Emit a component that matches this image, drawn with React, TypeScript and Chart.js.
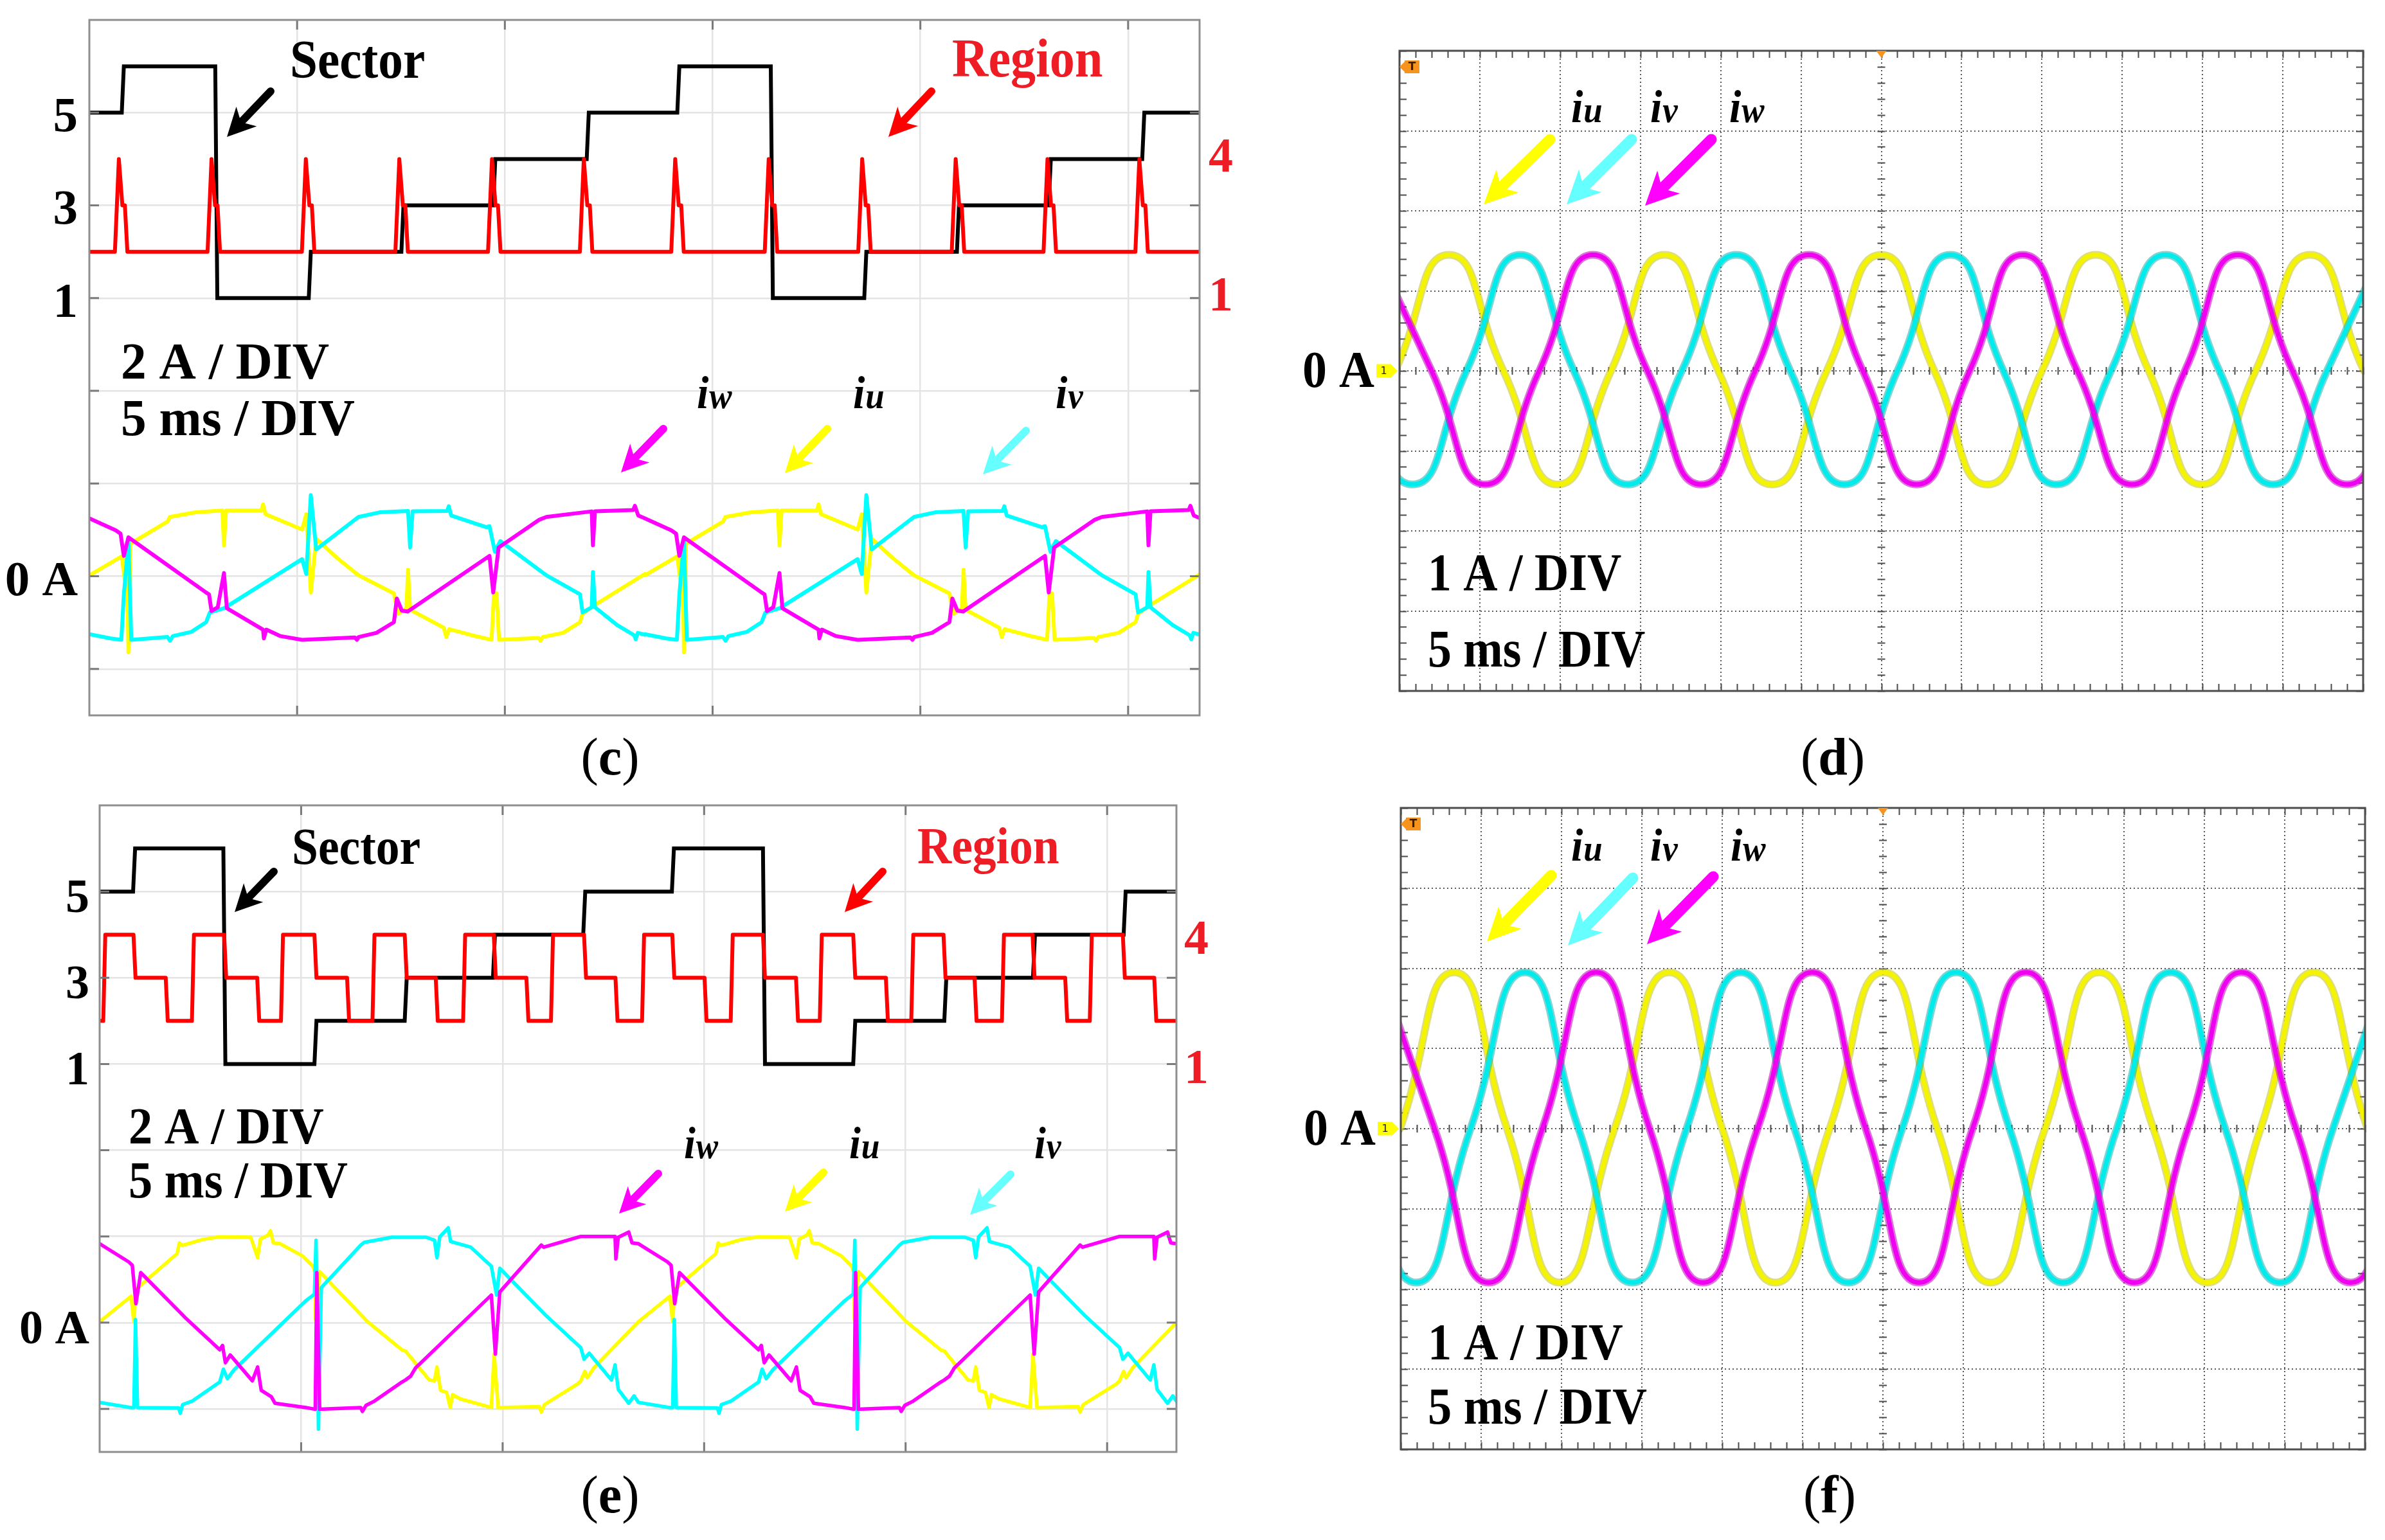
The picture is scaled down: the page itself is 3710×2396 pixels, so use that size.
import React, { useEffect, useRef } from 'react';
import { Chart, registerables } from 'chart.js';

Chart.register(...registerables);

const SERIF = '"Liberation Serif", "Times New Roman", Times, serif';

/* ================= panel (c) data ================= */
const C_T_MAX = 26.72;
const C_PERIOD = 13.37;
const C_X_GRID = [5, 10, 15, 20, 25];
const C_Y_GRID = [-1, 0, 1, 2, 3, 4, 5];
const C_SECTOR_T = [0, 0.78, 3.03, 5.28, 7.51, 9.72, 11.97, 14.15, 16.4, 18.65, 20.88, 23.09, 25.34];
const C_SECTOR_V = [5, 6, 1, 2, 3, 4, 5, 6, 1, 2, 3, 4, 5];
const C_REGION_PEAK_T = [0.71, 2.94, 5.21, 7.46, 9.69, 11.9, 14.1, 16.35, 18.6, 20.85, 23.06, 25.27];
const C_REGION_BASE = 2;
const C_SPIKE_DT = [-0.095, 0, 0.085, 0.145, 0.205];
const C_SPIKE_V = [2, 4, 3, 3, 2];
// one period of each phase current (ms, A)
const C_IU_T = [0, 0.78, 0.85, 0.9, 0.94, 0.99, 1.19, 1.88, 1.94, 2.56, 3.2, 3.24, 3.29, 4.14, 4.18, 4.24, 5.12, 5.22, 5.33, 5.46, 5.97, 6.48, 7.33, 7.43, 7.63, 7.67, 7.72, 8.53, 8.59, 8.66, 9.2, 9.68, 9.74, 9.8, 9.86, 10.81, 10.86, 10.91, 11.4, 11.81, 11.87, 12.11, 13.37];
const C_IU_A = [0.02, 0.43, -0.07, 0.67, -1.64, 0.7, 0.81, 1.18, 1.28, 1.38, 1.42, 0.67, 1.42, 1.42, 1.55, 1.34, 1.01, 1.34, -0.35, 0.81, 0.39, 0.02, -0.37, -0.81, -0.69, 0.14, -0.72, -1.11, -1.31, -1.14, -1.27, -1.37, -0.37, -0.37, -1.37, -1.33, -1.39, -1.31, -1.22, -0.99, -0.81, -0.65, 0.05];
const C_IV_T = [0, 0.51, 0.77, 0.83, 0.94, 1.01, 1.88, 1.94, 2.01, 2.45, 2.81, 2.9, 3.24, 5.12, 5.22, 5.33, 5.46, 6.39, 6.48, 6.99, 7.67, 7.72, 7.78, 8.61, 8.65, 8.71, 9.55, 9.63, 9.76, 9.89, 11.0, 11.81, 11.87, 12.09, 12.12, 12.17, 12.7, 13.11, 13.15, 13.2, 13.37];
const C_IV_A = [-1.25, -1.34, -1.37, -0.39, 0.76, -1.37, -1.31, -1.39, -1.29, -1.2, -0.99, -0.78, -0.69, 0.37, 0.05, 1.75, 0.58, 1.22, 1.28, 1.38, 1.41, 0.62, 1.4, 1.41, 1.51, 1.31, 1.06, 1.08, 0.53, 0.76, 0.02, -0.39, -0.78, -0.67, 0.09, -0.67, -1.05, -1.27, -1.36, -1.22, -1.26];
const C_IW_T = [0, 0.64, 0.75, 0.83, 0.94, 2.81, 2.88, 2.94, 3.09, 3.24, 3.31, 4.18, 4.2, 4.26, 4.6, 5.12, 6.39, 6.44, 6.48, 6.91, 7.33, 7.4, 7.52, 7.66, 9.63, 9.72, 9.85, 10.83, 11.0, 12.09, 12.12, 12.17, 13.09, 13.13, 13.21, 13.37];
const C_IW_A = [1.25, 0.99, 0.92, 0.44, 0.84, -0.35, -0.39, -0.75, -0.67, 0.07, -0.69, -1.15, -1.34, -1.15, -1.29, -1.37, -1.32, -1.37, -1.31, -1.22, -0.99, -0.48, -0.74, -0.76, 0.44, -0.35, 0.62, 1.22, 1.28, 1.4, 0.67, 1.4, 1.43, 1.52, 1.31, 1.25];

/* ================= panel (e) data ================= */
const E_T_MAX = 26.72;
const E_PERIOD = 13.37;
const E_SECTOR_T = [0, 0.83, 3.07, 5.33, 7.57, 9.76, 12.0, 14.2, 16.46, 18.7, 20.96, 23.16, 25.41];
const E_SECTOR_V = [5, 6, 1, 2, 3, 4, 5, 6, 1, 2, 3, 4, 5];
const E_REGION_T = [0, 0.09, 0.84, 1.64, 2.29, 3.09, 3.91, 4.5, 5.33, 6.14, 6.77, 7.57, 8.34, 9.02, 9.78, 10.59, 11.2, 12.02, 12.8, 13.46, 14.21, 15.01, 15.66, 16.46, 17.28, 17.87, 18.7, 19.51, 20.14, 20.94, 21.71, 22.39, 23.15, 23.96, 24.57, 25.39, 26.17];
const E_REGION_V = [2, 4, 3, 2, 4, 3, 2, 4, 3, 2, 4, 3, 2, 4, 3, 2, 4, 3, 2, 4, 3, 2, 4, 3, 2, 4, 3, 2, 4, 3, 2, 4, 3, 2, 4, 3, 2];
const E_IU_T = [0, 0.78, 0.85, 0.9, 1.19, 1.92, 1.98, 2.05, 2.56, 2.98, 3.75, 3.92, 3.99, 4.18, 4.24, 4.31, 4.48, 5.03, 5.29, 5.35, 5.36, 5.46, 6.65, 7.5, 7.59, 8.18, 8.31, 8.37, 8.46, 8.61, 8.7, 8.76, 8.95, 9.72, 9.79, 9.89, 10.91, 10.96, 11.04, 11.85, 11.94, 12.04, 12.1, 12.28, 13.37];
const E_IU_A = [0.02, 0.61, 0.02, 0.76, 1.01, 1.6, 1.85, 1.79, 1.93, 1.99, 1.98, 1.51, 1.94, 2.03, 2.13, 1.85, 1.83, 1.55, 1.31, 1.16, 0.07, 1.18, 0.02, -0.63, -0.66, -1.33, -1.35, -1.03, -1.57, -1.62, -1.97, -1.67, -1.77, -1.97, -0.73, -1.97, -1.95, -2.07, -1.9, -1.43, -1.35, -1.13, -1.28, -1.03, 0.02];
const E_IV_T = [0, 0.77, 0.85, 0.89, 0.94, 1.96, 2.0, 2.06, 2.3, 2.98, 3.07, 3.17, 3.33, 5.12, 5.33, 5.37, 5.43, 5.5, 6.48, 6.56, 7.25, 8.1, 8.31, 8.37, 8.44, 8.65, 8.71, 9.21, 9.72, 9.85, 9.93, 11.08, 11.94, 12.02, 12.15, 12.7, 12.79, 12.87, 13.13, 13.26, 13.37];
const E_IV_A = [-1.85, -1.97, -1.97, 0.07, -1.97, -1.98, -2.1, -1.9, -1.82, -1.38, -1.08, -1.3, -1.1, 0.51, 0.66, 1.91, -2.47, 0.81, 1.8, 1.86, 1.98, 1.98, 1.91, 1.51, 1.99, 2.2, 1.88, 1.75, 1.31, 0.64, 1.26, 0.16, -0.58, -0.85, -0.71, -1.33, -0.98, -1.55, -1.87, -1.7, -1.85];
const E_IW_T = [0, 0.72, 0.81, 0.9, 1.02, 2.13, 2.98, 3.05, 3.12, 3.24, 3.79, 3.92, 4.01, 4.26, 4.35, 5.12, 5.35, 5.39, 5.46, 6.48, 6.52, 6.61, 6.82, 7.5, 7.59, 7.72, 7.84, 8.53, 9.72, 9.82, 9.93, 10.96, 11.02, 11.94, 12.79, 12.81, 12.87, 13.13, 13.21, 13.37];
const E_IW_A = [1.83, 1.41, 1.33, 0.44, 1.16, 0.11, -0.63, -0.53, -0.93, -0.75, -1.35, -1.03, -1.57, -1.72, -1.87, -1.97, -2.01, 1.16, -2.01, -1.97, -2.06, -1.92, -1.82, -1.38, -1.33, -1.24, -1.05, -0.43, 0.64, -0.73, 0.71, 1.8, 1.75, 2.0, 2.0, 1.48, 1.98, 2.1, 1.85, 1.83];

/* ================= panels (d) and (f) data: peaks, zero crossings, troughs ================= */
const SCOPE_T_MAX = 60;
const SCOPE_X_GRID = [5, 10, 15, 20, 25, 30, 35, 40, 45, 50, 55];
const SCOPE_Y_GRID = [-3, -2, -1, 0, 1, 2, 3];
const D_IU_T = [-3.62, -0.27, 3.08, 6.47, 9.85, 13.17, 16.5, 19.85, 23.2, 26.6, 30.0, 33.3, 36.6, 40.0, 43.35, 46.65, 49.95, 53.3, 56.7, 60.05, 63.4];
const D_IU_A = [-1.42, 0, 1.45, 0, -1.42, 0, 1.45, 0, -1.42, 0, 1.45, 0, -1.42, 0, 1.45, 0, -1.42, 0, 1.45, 0, -1.42];
const D_IV_T = [-5.88, -2.53, 0.82, 4.17, 7.52, 10.86, 14.2, 17.58, 20.97, 24.33, 27.7, 31.0, 34.3, 37.6, 40.9, 44.3, 47.7, 51.05, 54.4, 57.75, 61.1];
const D_IV_A = [1.45, 0, -1.42, 0, 1.45, 0, -1.42, 0, 1.45, 0, -1.42, 0, 1.45, 0, -1.42, 0, 1.45, 0, -1.42, 0, 1.45];
const D_IW_T = [-1.35, 2.0, 5.34, 8.7, 12.05, 15.43, 18.8, 22.15, 25.5, 28.85, 32.2, 35.5, 38.8, 42.2, 45.6, 48.9, 52.2, 55.6, 59.0, 62.35];
const D_IW_A = [1.45, 0, -1.42, 0, 1.45, 0, -1.42, 0, 1.45, 0, -1.42, 0, 1.45, 0, -1.42, 0, 1.45, 0, -1.42, 0];
const F_IU_T = [-3.4, -0.04, 3.32, 6.61, 9.9, 13.3, 16.7, 20.0, 23.3, 26.68, 30.05, 33.38, 36.7, 40.08, 43.45, 46.83, 50.2, 53.5, 56.8, 60.15, 63.5];
const F_IU_A = [-1.92, 0, 1.95, 0, -1.92, 0, 1.95, 0, -1.92, 0, 1.95, 0, -1.92, 0, 1.95, 0, -1.92, 0, 1.95, 0, -1.92];
const F_IV_T = [-5.75, -2.4, 0.96, 4.34, 7.72, 11.06, 14.4, 17.78, 21.15, 24.5, 27.85, 31.2, 34.55, 37.88, 41.2, 44.55, 47.9, 51.3, 54.7, 58.0, 61.3];
const F_IV_A = [1.95, 0, -1.92, 0, 1.95, 0, -1.92, 0, 1.95, 0, -1.92, 0, 1.95, 0, -1.92, 0, 1.95, 0, -1.92, 0, 1.95];
const F_IW_T = [-1.25, 2.1, 5.46, 8.81, 12.16, 15.48, 18.8, 22.2, 25.6, 28.93, 32.25, 35.58, 38.9, 42.28, 45.65, 48.98, 52.3, 55.7, 59.1, 62.45];
const F_IW_A = [1.95, 0, -1.92, 0, 1.95, 0, -1.92, 0, 1.95, 0, -1.92, 0, 1.95, 0, -1.92, 0, 1.95, 0, -1.92, 0];

/* ================= tick labels ================= */
const SECTOR_TICKS = [5, 3, 1];
const REGION_TICKS = [4, 1];
const ZERO_LABEL = '0 A';

/* ================= helpers ================= */
type P = { x: number; y: number };
const zip = (t: number[], v: number[]): P[] => t.map((x, i) => ({ x, y: v[i] }));
const repeatPeriod = (t: number[], v: number[], period: number, n: number): P[] => {
  const out: P[] = [];
  for (let k = 0; k < n; k++) for (let i = 0; i < t.length; i++) out.push({ x: t[i] + k * period, y: v[i] });
  return out;
};
const stepLine = (t: number[], v: number[], end: number, slant: number): P[] => {
  const out: P[] = [{ x: t[0], y: v[0] }];
  for (let i = 1; i < t.length; i++) {
    out.push({ x: t[i], y: v[i - 1] });
    out.push({ x: t[i] + slant, y: v[i] });
  }
  out.push({ x: end, y: v[v.length - 1] });
  return out;
};
const spikeLine = (peaks: number[], dt: number[], lv: number[], base: number, end: number): P[] => {
  const out: P[] = [{ x: 0, y: base }];
  peaks.forEach((p) => dt.forEach((d, i) => out.push({ x: p + d, y: lv[i] })));
  out.push({ x: end, y: base });
  return out;
};

const font = (size: number, bold = true, italic = false) => `${italic ? 'italic ' : ''}${bold ? 'bold ' : ''}${size}px ${SERIF}`;

type TextItem = { s: string; x: number; y: number; size: number; color?: string; sx?: number; align?: 'left' | 'right' | 'center' };
type SubItem = { sub: string; x: number; y: number; size: number };
type ArrowItem = { x1: number; y1: number; x2: number; y2: number; color: string; shaft: number; head: number; headW: number };

function drawText(ctx: CanvasRenderingContext2D, t: TextItem, ox: number, oy: number) {
  ctx.save();
  ctx.font = font(t.size);
  ctx.fillStyle = t.color || '#000';
  ctx.textBaseline = 'alphabetic';
  ctx.textAlign = 'left';
  const sx = t.sx || 1;
  const w = ctx.measureText(t.s).width * sx;
  let x = t.x - ox;
  if (t.align === 'right') x -= w;
  else if (t.align === 'center') x -= w / 2;
  ctx.translate(x, t.y - oy);
  ctx.scale(sx, 1);
  ctx.fillText(t.s, 0, 0);
  ctx.restore();
}

function drawSub(ctx: CanvasRenderingContext2D, t: SubItem, ox: number, oy: number) {
  ctx.save();
  ctx.fillStyle = '#000';
  ctx.textBaseline = 'alphabetic';
  ctx.translate(t.x - ox, t.y - oy);
  ctx.scale(0.92, 1);
  ctx.font = font(t.size, true, true);
  ctx.fillText('i', 0, 0);
  const w = ctx.measureText('i').width;
  ctx.font = font(t.size * 0.8, true, true);
  ctx.fillText(t.sub, w + 1, 0);
  ctx.restore();
}

function drawArrow(ctx: CanvasRenderingContext2D, a: ArrowItem, ox: number, oy: number) {
  const x1 = a.x1 - ox, y1 = a.y1 - oy, x2 = a.x2 - ox, y2 = a.y2 - oy;
  const dx = x2 - x1, dy = y2 - y1;
  const L = Math.hypot(dx, dy);
  const ux = dx / L, uy = dy / L, px = -uy, py = ux;
  const bx = x2 - ux * a.head, by = y2 - uy * a.head;
  ctx.save();
  ctx.strokeStyle = a.color;
  ctx.fillStyle = a.color;
  ctx.lineWidth = a.shaft;
  ctx.lineCap = 'round';
  ctx.beginPath();
  ctx.moveTo(x1, y1);
  ctx.lineTo(bx + ux * a.head * 0.35, by + uy * a.head * 0.35);
  ctx.stroke();
  ctx.beginPath();
  ctx.moveTo(x2, y2);
  ctx.lineTo(bx + (px * a.headW) / 2, by + (py * a.headW) / 2);
  ctx.lineTo(bx + ux * a.head * 0.28, by + uy * a.head * 0.28);
  ctx.lineTo(bx - (px * a.headW) / 2, by - (py * a.headW) / 2);
  ctx.closePath();
  ctx.fill();
  ctx.restore();
}

function drawCaption(ctx: CanvasRenderingContext2D, letter: string, cx: number, base: number, ox: number, oy: number) {
  const size = 82;
  const parts: [string, boolean][] = [['(', false], [letter, true], [')', false]];
  ctx.save();
  ctx.fillStyle = '#000';
  ctx.textBaseline = 'alphabetic';
  ctx.textAlign = 'left';
  const widths = parts.map(([s, b]) => {
    ctx.font = font(size, b);
    return ctx.measureText(s).width;
  });
  let x = cx - ox - widths.reduce((a, b) => a + b, 0) / 2;
  parts.forEach(([s, b], i) => {
    ctx.font = font(size, b);
    ctx.fillText(s, x, base - oy);
    x += widths[i];
  });
  ctx.restore();
}

const gridAxis = (min: number, max: number, grid: number[], color: string, width: number, dash: number[]) => ({
  type: 'linear',
  min,
  max,
  afterBuildTicks: (axis: any) => {
    axis.ticks = grid.map((value) => ({ value }));
  },
  ticks: { display: false },
  grid: { color, lineWidth: width, drawTicks: false },
  border: { display: false, dash },
});

const baseOptions = (padding: any) => ({
  responsive: false,
  maintainAspectRatio: false,
  animation: false,
  devicePixelRatio: 1,
  events: [],
  layout: { padding },
  plugins: { legend: { display: false }, tooltip: { enabled: false }, title: { display: false } },
  elements: {
    point: { radius: 0, hoverRadius: 0, hitRadius: 0 },
    line: { tension: 0, borderCapStyle: 'round', borderJoinStyle: 'round', capBezierPoints: false },
  },
});

/* ================= PWM (Matlab-style) panels ================= */
type LabelItem = { s: string; scale: string; v: number };
type PwmCfg = {
  ox: number; oy: number; padding: any; tMax: number;
  sector: P[]; region: P[]; iu: P[]; iv: P[]; iw: P[]; lw: number;
  left: LabelItem[]; leftSize: number; leftGap: number; leftDy: number;
  right: LabelItem[]; rightSize: number; rightGap: number; rightDy: number;
  texts: TextItem[]; subs: SubItem[]; arrows: ArrowItem[]; caption: string; capX: number; capY: number;
};

function pwmChart(c: PwmCfg) {
  const plugin = {
    id: 'pwmDecor',
    afterDatasetsDraw(chart: any) {
      const { ctx, chartArea: a } = chart;
      const xs = chart.scales.x, ys = chart.scales.y;
      ctx.save();
      ctx.strokeStyle = '#7a7a7a';
      ctx.lineWidth = 3;
      ctx.beginPath();
      C_Y_GRID.forEach((v) => {
        const py = ys.getPixelForValue(v);
        ctx.moveTo(a.left, py); ctx.lineTo(a.left + 15, py);
        ctx.moveTo(a.right - 15, py); ctx.lineTo(a.right, py);
      });
      C_X_GRID.forEach((v) => {
        const px = xs.getPixelForValue(v);
        ctx.moveTo(px, a.bottom); ctx.lineTo(px, a.bottom - 15);
        ctx.moveTo(px, a.top); ctx.lineTo(px, a.top + 15);
      });
      ctx.stroke();
      ctx.strokeStyle = '#8e8e8e';
      ctx.lineWidth = 3;
      ctx.strokeRect(a.left, a.top, a.right - a.left, a.bottom - a.top);
      ctx.restore();
    },
    afterDraw(chart: any) {
      const { ctx, chartArea: a } = chart;
      c.left.forEach((l) => {
        const py = chart.scales[l.scale].getPixelForValue(l.v);
        drawText(ctx, { s: l.s, x: a.left - c.leftGap + c.ox, y: py + 0.35 * c.leftSize + c.leftDy + c.oy, size: c.leftSize, align: 'right' }, c.ox, c.oy);
      });
      c.right.forEach((l) => {
        const py = chart.scales[l.scale].getPixelForValue(l.v);
        drawText(ctx, { s: l.s, x: a.right + c.rightGap + c.ox, y: py + 0.35 * c.rightSize + c.rightDy + c.oy, size: c.rightSize, color: '#ee1c24' }, c.ox, c.oy);
      });
      c.texts.forEach((t) => drawText(ctx, t, c.ox, c.oy));
      c.subs.forEach((t) => drawSub(ctx, t, c.ox, c.oy));
      c.arrows.forEach((t) => drawArrow(ctx, t, c.ox, c.oy));
      drawCaption(ctx, c.caption, c.capX, c.capY, c.ox, c.oy);
    },
  };
  const line = (data: P[], color: string, width: number, axis: string, order: number, join = 'round') => ({
    data, borderColor: color, borderWidth: width, yAxisID: axis, order, borderJoinStyle: join, pointRadius: 0, fill: false,
  });
  return {
    type: 'line',
    data: {
      datasets: [
        line(c.region, '#ff0000', 6, 'yS', 1),
        line(c.sector, '#000000', 6, 'yS', 2, 'miter'),
        line(c.iw, '#ff00ff', c.lw, 'yA', 3),
        line(c.iv, '#00ffff', c.lw, 'yA', 4),
        line(c.iu, '#ffff00', c.lw, 'yA', 5),
      ],
    },
    options: {
      ...baseOptions(c.padding),
      scales: {
        x: gridAxis(0, c.tMax, C_X_GRID, '#e4e4e4', 2.5, []),
        y: gridAxis(-1.5, 6, C_Y_GRID, '#e4e4e4', 2.5, []),
        yS: { type: 'linear', display: false, min: -8, max: 7 },
        yA: { type: 'linear', display: false, min: -3, max: 12 },
      },
    },
    plugins: [plugin],
  };
}

/* ================= oscilloscope panels ================= */
type ScopeCfg = {
  ox: number; oy: number; padding: any; iu: P[]; iv: P[]; iw: P[];
  texts: TextItem[]; subs: SubItem[]; arrows: ArrowItem[]; caption: string; capX: number; capY: number;
};

function scopeChart(c: ScopeCfg) {
  const plugin = {
    id: 'scopeDecor',
    beforeDatasetsDraw(chart: any) {
      const { ctx, chartArea: a } = chart;
      const xs = chart.scales.x, ys = chart.scales.y;
      const x0 = xs.getPixelForValue(SCOPE_T_MAX / 2), y0 = ys.getPixelForValue(0);
      ctx.save();
      ctx.strokeStyle = '#4a4a4a';
      ctx.lineWidth = 2;
      ctx.beginPath();
      for (let k = 0; k <= SCOPE_T_MAX; k++) {
        const px = Math.round(xs.getPixelForValue(k)) + 0.5;
        ctx.moveTo(px, a.top); ctx.lineTo(px, a.top + 11);
        ctx.moveTo(px, a.bottom); ctx.lineTo(px, a.bottom - 11);
        ctx.moveTo(px, y0 - 6); ctx.lineTo(px, y0 + 6);
      }
      for (let k = -20; k <= 20; k++) {
        const py = Math.round(ys.getPixelForValue(k / 5)) + 0.5;
        ctx.moveTo(a.left, py); ctx.lineTo(a.left + 11, py);
        ctx.moveTo(a.right, py); ctx.lineTo(a.right - 11, py);
        ctx.moveTo(x0 - 6, py); ctx.lineTo(x0 + 6, py);
      }
      ctx.stroke();
      ctx.restore();
    },
    afterDatasetsDraw(chart: any) {
      const { ctx, chartArea: a } = chart;
      ctx.save();
      ctx.strokeStyle = '#4d4d4d';
      ctx.lineWidth = 3;
      ctx.strokeRect(a.left, a.top, a.right - a.left, a.bottom - a.top);
      ctx.restore();
    },
    afterDraw(chart: any) {
      const { ctx, chartArea: a } = chart;
      const xs = chart.scales.x, ys = chart.scales.y;
      const yz = ys.getPixelForValue(0);
      const xc = xs.getPixelForValue(SCOPE_T_MAX / 2);
      ctx.save();
      const yc = a.top + 25;
      ctx.fillStyle = '#f7941d';
      ctx.beginPath();
      ctx.moveTo(a.left, yc); ctx.lineTo(a.left + 9, yc - 9); ctx.lineTo(a.left + 9, yc + 9); ctx.closePath(); ctx.fill();
      ctx.fillRect(a.left + 8, yc - 10, 23, 20);
      ctx.fillStyle = '#3b1d00';
      ctx.font = 'bold 17px "DejaVu Sans", sans-serif';
      ctx.textAlign = 'center';
      ctx.textBaseline = 'middle';
      ctx.fillText('T', a.left + 19.5, yc + 1);
      ctx.fillStyle = '#f7941d';
      ctx.beginPath();
      ctx.moveTo(xc - 8, a.top); ctx.lineTo(xc + 8, a.top); ctx.lineTo(xc, a.top + 11); ctx.closePath(); ctx.fill();
      ctx.fillStyle = '#ffff00';
      ctx.fillRect(a.left - 36, yz - 10.5, 23, 21);
      ctx.beginPath();
      ctx.moveTo(a.left - 13.5, yz - 10.5); ctx.lineTo(a.left - 3, yz); ctx.lineTo(a.left - 13.5, yz + 10.5); ctx.closePath(); ctx.fill();
      ctx.fillStyle = '#222';
      ctx.font = '16px "DejaVu Sans", sans-serif';
      ctx.fillText('1', a.left - 24.5, yz + 1);
      ctx.restore();
      drawText(ctx, { s: ZERO_LABEL, x: a.left - 39 + c.ox, y: yz + 25 + c.oy, size: 80, align: 'right', sx: 0.95 }, c.ox, c.oy);
      c.texts.forEach((t) => drawText(ctx, t, c.ox, c.oy));
      c.subs.forEach((t) => drawSub(ctx, t, c.ox, c.oy));
      c.arrows.forEach((t) => drawArrow(ctx, t, c.ox, c.oy));
      drawCaption(ctx, c.caption, c.capX, c.capY, c.ox, c.oy);
    },
  };
  // each trace: a darker, semi-transparent wide band (measurement noise) under a bright core line
  const trace = (data: P[], core: string, band: string, order: number) => [
    { data, borderColor: core, borderWidth: 7, tension: 0.55, order, pointRadius: 0, fill: false },
    { data, borderColor: band, borderWidth: 12, tension: 0.55, order: order + 0.5, pointRadius: 0, fill: false },
  ];
  return {
    type: 'line',
    data: {
      datasets: [
        ...trace(c.iw, '#f000f0', 'rgba(190,0,190,0.55)', 1),
        ...trace(c.iv, '#00ecec', 'rgba(0,170,170,0.5)', 2),
        ...trace(c.iu, '#f4f400', 'rgba(190,190,0,0.5)', 3),
      ],
    },
    options: {
      ...baseOptions(c.padding),
      scales: {
        x: gridAxis(0, SCOPE_T_MAX, SCOPE_X_GRID, '#5a5a5a', 2, [2, 4]),
        y: gridAxis(-4, 4, SCOPE_Y_GRID, '#5a5a5a', 2, [2, 4]),
      },
    },
    plugins: [plugin],
  };
}

/* ================= panel builders ================= */
const SLANT = 0.05;

const makeC = () =>
  pwmChart({
    ox: 0, oy: 0, padding: { left: 139, top: 31, right: 124, bottom: 127 }, tMax: C_T_MAX,
    sector: stepLine(C_SECTOR_T, C_SECTOR_V, C_T_MAX, SLANT),
    region: spikeLine(C_REGION_PEAK_T, C_SPIKE_DT, C_SPIKE_V, C_REGION_BASE, C_T_MAX),
    iu: repeatPeriod(C_IU_T, C_IU_A, C_PERIOD, 2),
    iv: repeatPeriod(C_IV_T, C_IV_A, C_PERIOD, 2),
    iw: repeatPeriod(C_IW_T, C_IW_A, C_PERIOD, 2),
    lw: 6,
    left: [...SECTOR_TICKS.map((v) => ({ s: String(v), scale: 'yS', v })), { s: ZERO_LABEL, scale: 'yA', v: 0 }],
    leftSize: 77, leftGap: 18, leftDy: 2,
    right: REGION_TICKS.map((v) => ({ s: String(v), scale: 'yS', v })),
    rightSize: 76, rightGap: 14, rightDy: -7,
    texts: [
      { s: 'Sector', x: 451, y: 121, size: 84, sx: 0.92 },
      { s: 'Region', x: 1481, y: 119, size: 84, color: '#ee1c24', sx: 0.93 },
      { s: '2 A / DIV', x: 188, y: 589, size: 81, sx: 0.98 },
      { s: '5 ms / DIV', x: 188, y: 677, size: 81, sx: 0.98 },
    ],
    subs: [
      { sub: 'w', x: 1084, y: 635, size: 72 },
      { sub: 'u', x: 1327, y: 635, size: 72 },
      { sub: 'v', x: 1642, y: 635, size: 72 },
    ],
    arrows: [
      { x1: 421, y1: 142, x2: 353, y2: 213, color: '#000000', shaft: 12, head: 44, headW: 44 },
      { x1: 1449, y1: 142, x2: 1382, y2: 213, color: '#ff0000', shaft: 12, head: 44, headW: 44 },
      { x1: 1032, y1: 667, x2: 966, y2: 735, color: '#ff00ff', shaft: 12, head: 42, headW: 42 },
      { x1: 1287, y1: 667, x2: 1221, y2: 736, color: '#ffff00', shaft: 12, head: 42, headW: 42 },
      { x1: 1596, y1: 670, x2: 1529, y2: 738, color: '#66ffff', shaft: 12, head: 42, headW: 42 },
    ],
    caption: 'c', capX: 949, capY: 1205,
  });

const makeE = () =>
  pwmChart({
    ox: 0, oy: 1240, padding: { left: 155, top: 13, right: 160, bottom: 137 }, tMax: E_T_MAX,
    sector: stepLine(E_SECTOR_T, E_SECTOR_V, E_T_MAX, SLANT),
    region: stepLine(E_REGION_T, E_REGION_V, E_T_MAX, SLANT),
    iu: repeatPeriod(E_IU_T, E_IU_A, E_PERIOD, 2),
    iv: repeatPeriod(E_IV_T, E_IV_A, E_PERIOD, 2),
    iw: repeatPeriod(E_IW_T, E_IW_A, E_PERIOD, 2),
    lw: 5.5,
    left: [...SECTOR_TICKS.map((v) => ({ s: String(v), scale: 'yS', v })), { s: ZERO_LABEL, scale: 'yA', v: 0 }],
    leftSize: 74, leftGap: 16, leftDy: 6,
    right: REGION_TICKS.map((v) => ({ s: String(v), scale: 'yS', v })),
    rightSize: 76, rightGap: 12, rightDy: 3,
    texts: [
      { s: 'Sector', x: 454, y: 1344, size: 80, sx: 0.92 },
      { s: 'Region', x: 1427, y: 1343, size: 80, color: '#ee1c24', sx: 0.92 },
      { s: '2 A / DIV', x: 200, y: 1779, size: 80, sx: 0.93 },
      { s: '5 ms / DIV', x: 200, y: 1863, size: 80, sx: 0.93 },
    ],
    subs: [
      { sub: 'w', x: 1064, y: 1802, size: 70 },
      { sub: 'u', x: 1321, y: 1802, size: 70 },
      { sub: 'v', x: 1609, y: 1802, size: 70 },
    ],
    arrows: [
      { x1: 426, y1: 1356, x2: 365, y2: 1419, color: '#000000', shaft: 12, head: 42, headW: 42 },
      { x1: 1373, y1: 1356, x2: 1314, y2: 1419, color: '#ff0000', shaft: 12, head: 42, headW: 42 },
      { x1: 1024, y1: 1826, x2: 963, y2: 1888, color: '#ff00ff', shaft: 12, head: 40, headW: 40 },
      { x1: 1281, y1: 1824, x2: 1221, y2: 1885, color: '#ffff00', shaft: 12, head: 40, headW: 40 },
      { x1: 1572, y1: 1827, x2: 1509, y2: 1890, color: '#66ffff', shaft: 12, head: 40, headW: 40 },
    ],
    caption: 'e', capX: 949, capY: 2353,
  });

const makeD = () =>
  scopeChart({
    ox: 1990, oy: 0, padding: { left: 187, top: 79, right: 34, bottom: 165 },
    iu: zip(D_IU_T, D_IU_A), iv: zip(D_IV_T, D_IV_A), iw: zip(D_IW_T, D_IW_A),
    texts: [
      { s: '1 A / DIV', x: 2221, y: 918, size: 82, sx: 0.9 },
      { s: '5 ms / DIV', x: 2221, y: 1037, size: 82, sx: 0.9 },
    ],
    subs: [
      { sub: 'u', x: 2444, y: 190, size: 72 },
      { sub: 'v', x: 2567, y: 190, size: 72 },
      { sub: 'w', x: 2690, y: 190, size: 72 },
    ],
    arrows: [
      { x1: 2411, y1: 217, x2: 2308, y2: 318, color: '#ffff00', shaft: 17, head: 52, headW: 50 },
      { x1: 2538, y1: 217, x2: 2437, y2: 318, color: '#66ffff', shaft: 17, head: 52, headW: 50 },
      { x1: 2662, y1: 217, x2: 2559, y2: 320, color: '#ff00ff', shaft: 17, head: 52, headW: 50 },
    ],
    caption: 'd', capX: 2851, capY: 1205,
  });

const makeF = () =>
  scopeChart({
    ox: 1990, oy: 1240, padding: { left: 189, top: 17, right: 31, bottom: 141 },
    iu: zip(F_IU_T, F_IU_A), iv: zip(F_IV_T, F_IV_A), iw: zip(F_IW_T, F_IW_A),
    texts: [
      { s: '1 A / DIV', x: 2221, y: 2115, size: 80, sx: 0.93 },
      { s: '5 ms / DIV', x: 2221, y: 2215, size: 80, sx: 0.93 },
    ],
    subs: [
      { sub: 'u', x: 2444, y: 1339, size: 72 },
      { sub: 'v', x: 2567, y: 1339, size: 72 },
      { sub: 'w', x: 2692, y: 1339, size: 72 },
    ],
    arrows: [
      { x1: 2413, y1: 1362, x2: 2313, y2: 1465, color: '#ffff00', shaft: 17, head: 52, headW: 50 },
      { x1: 2540, y1: 1366, x2: 2439, y2: 1471, color: '#66ffff', shaft: 17, head: 52, headW: 50 },
      { x1: 2665, y1: 1364, x2: 2562, y2: 1469, color: '#ff00ff', shaft: 17, head: 52, headW: 50 },
    ],
    caption: 'f', capX: 2846, capY: 2353,
  });

/* ================= components ================= */
function Panel({ left, top, width, height, make }: { left: number; top: number; width: number; height: number; make: () => any }) {
  const ref = useRef<HTMLCanvasElement | null>(null);
  useEffect(() => {
    if (!ref.current) return;
    const chart = new Chart(ref.current, make());
    return () => chart.destroy();
  }, []);
  return (
    <canvas
      ref={ref}
      width={width}
      height={height}
      style={{ position: 'absolute', left, top, width, height, display: 'block' }}
    />
  );
}

export default function App() {
  return (
    <div style={{ position: 'absolute', left: 0, top: 0, width: 3710, height: 2396, background: '#ffffff', overflow: 'hidden' }}>
      <Panel left={0} top={0} width={1990} height={1240} make={makeC} />
      <Panel left={1990} top={0} width={1720} height={1240} make={makeD} />
      <Panel left={0} top={1240} width={1990} height={1156} make={makeE} />
      <Panel left={1990} top={1240} width={1720} height={1156} make={makeF} />
    </div>
  );
}
